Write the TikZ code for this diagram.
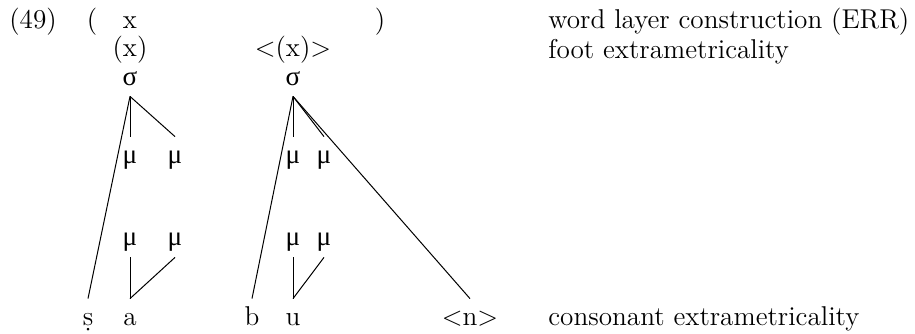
\documentclass[tikz,border=0pt]{standalone}
\usepackage{fontspec}
\newfontfamily\grk{Liberation Serif}
\usetikzlibrary{positioning}
\tikzset{
  tier/.style={anchor=base, inner sep=0pt},
  seg/.style={anchor=base, inner xsep=0pt, inner ysep=3pt, text height=10pt, text depth=3pt},
  sylnode/.style={anchor=base, inner xsep=0pt, inner ysep=2pt, text height=4pt, text depth=3.5pt},
  lbl/.style={anchor=base west, inner sep=0pt},
  assoc/.style={line width=0.5pt}
}
\newcommand{\sig}{{\grk σ}}
\newcommand{\mor}{{\grk μ}}

\begin{document}
\begin{tikzpicture}[x=0.5pt, y=-0.5pt, font=\fontsize{13.6}{15}\selectfont]
  \useasboundingbox (0,0) rectangle (915,333);
  % grid rows
  \node[tier] (ex) at (33,28) {(49)};
  \node[tier] (lp) at (92,28) {(};
  \node[tier] (wx) at (130,28) {x};
  \node[tier] (rp) at (380,28) {)};
  \node[tier] (ftL) at (130,56) {(x)};
  \node[tier] (ftR) at (293,56) {<(x)>};
  % syllables
  \node[sylnode] (sL) at (130,85) {\sig};
  \node[sylnode] (sR) at (293,85) {\sig};
  % moras
  \foreach \n/\x in {mLa/130, mLb/175, mRa/293, mRb/324}
    \node[seg] (\n) at (\x,163) {\mor};
  \foreach \n/\x in {mLc/130, mLd/175, mRc/293, mRd/324}
    \node[seg] (\n) at (\x,245) {\mor};
  % segments
  \node[seg] (s) at (88,325) {\d{s}};
  \node[seg] (a) at (130,325) {a};
  \node[seg] (b) at (252,325) {b};
  \node[seg] (u) at (293,325) {u};
  \node[seg] (n) at (470,325) {<n>};
  % annotations
  \node[lbl] (wl) at (548,28) {word layer construction (ERR)};
  \node[lbl] (fe) at (548,58) {foot extrametricality};
  \node[lbl] (ce) at (548,325) {consonant extrametricality};
  % association lines
  \foreach \t in {mLa, mLb, s} \draw[assoc] (sL.south) -- (\t.north);
  \foreach \t in {mRa, mRb, b, n} \draw[assoc] (sR.south) -- (\t.north);
  \draw[assoc] (mLc.south) -- (a.north);
  \draw[assoc] (mLd.south) -- (a.north);
  \draw[assoc] (mRc.south) -- (u.north);
  \draw[assoc] (mRd.south) -- (u.north);
\end{tikzpicture}
\end{document}
